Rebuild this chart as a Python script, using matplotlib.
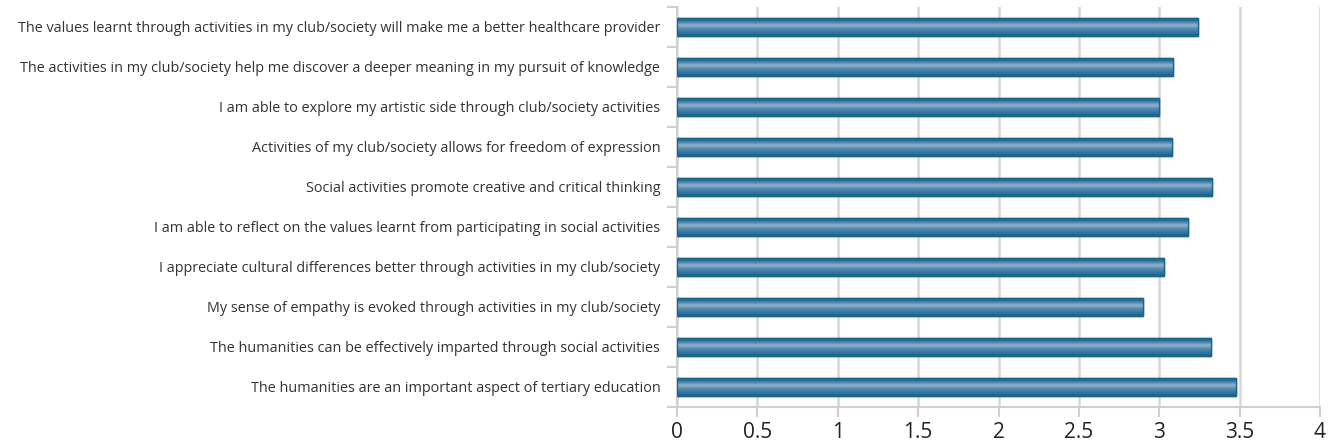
import matplotlib
matplotlib.use("Agg")
import matplotlib.pyplot as plt
import numpy as np
from matplotlib.colors import LinearSegmentedColormap

plt.rcParams['font.family'] = ['Open Sans', 'DejaVu Sans']

statements = [
    "The values learnt through activities in my club/society will make me a better healthcare provider",
    "The activities in my club/society help me discover a deeper meaning in my pursuit of knowledge",
    "I am able to explore my artistic side through club/society activities",
    "Activities of my club/society allows for freedom of expression",
    "Social activities promote creative and critical thinking",
    "I am able to reflect on the values learnt from participating in social activities",
    "I appreciate cultural differences better through activities in my club/society",
    "My sense of empathy is evoked through activities in my club/society",
    "The humanities can be effectively imparted through social activities",
    "The humanities are an important aspect of tertiary education",
]
mean_scores = [3.24, 3.085, 3.00, 3.08, 3.33, 3.18, 3.03, 2.90, 3.32, 3.475]
x_ticks = [0, 0.5, 1, 1.5, 2, 2.5, 3, 3.5, 4]
x_tick_labels = ["0", "0.5", "1", "1.5", "2", "2.5", "3", "3.5", "4"]

fig = plt.figure(figsize=(13.29, 4.44), dpi=100)
ax = fig.add_axes([677 / 1329, 1 - 407 / 444, (1320 - 677) / 1329, 400 / 444])

n = len(statements)
ypos = np.arange(n)[::-1]
bar_h = 0.43

bars = ax.barh(ypos, mean_scores, height=bar_h, color="#3a7ca3",
               edgecolor="#1b668e", linewidth=1.0, zorder=3)

# cylinder-like shading: dark rim, light band just above the middle
shade = LinearSegmentedColormap.from_list(
    "cyl", [(0.0, "#175f87"), (0.14, "#2a719a"), (0.40, "#93b3cb"),
            (0.62, "#4f88ad"), (0.86, "#2c729b"), (1.0, "#175f87")])
grad = np.linspace(0, 1, 64).reshape(-1, 1)
for b in bars:
    x0, y0 = b.get_x(), b.get_y()
    w, h = b.get_width(), b.get_height()
    im = ax.imshow(grad, cmap=shade, aspect="auto", origin="upper",
                   extent=(x0, x0 + w, y0, y0 + h), zorder=4,
                   interpolation="bilinear")
    im.set_clip_path(b)
    ax.add_patch(plt.Rectangle((x0, y0), w, h, fill=False,
                               edgecolor="#1b668e", linewidth=1.0, zorder=5))

ax.set_xlim(0, 4)
ax.set_ylim(-0.5, n - 0.5)
ax.set_xticks(x_ticks)
ax.set_xticklabels(x_tick_labels, fontsize=15, color="#222222")
ax.set_yticks(ypos)
ax.set_yticklabels(statements, fontsize=10.4, color="#333333")
ax.tick_params(axis="y", length=0, pad=12)
ax.tick_params(axis="x", length=7, width=1.5, color="#d0d0d0", pad=4)

# category boundary ticks on the value axis spine
ax.set_yticks(np.arange(-0.5, n, 1.0), minor=True)
ax.tick_params(axis="y", which="minor", length=7, width=1.5, color="#d0d0d0")

ax.grid(axis="x", color="#d6d6d6", linewidth=1.8, zorder=0)
ax.set_axisbelow(True)
for side in ("top", "right"):
    ax.spines[side].set_visible(False)
for side in ("left", "bottom"):
    ax.spines[side].set_color("#d0d0d0")
    ax.spines[side].set_linewidth(1.5)

fig.savefig("out.png", dpi=100)
